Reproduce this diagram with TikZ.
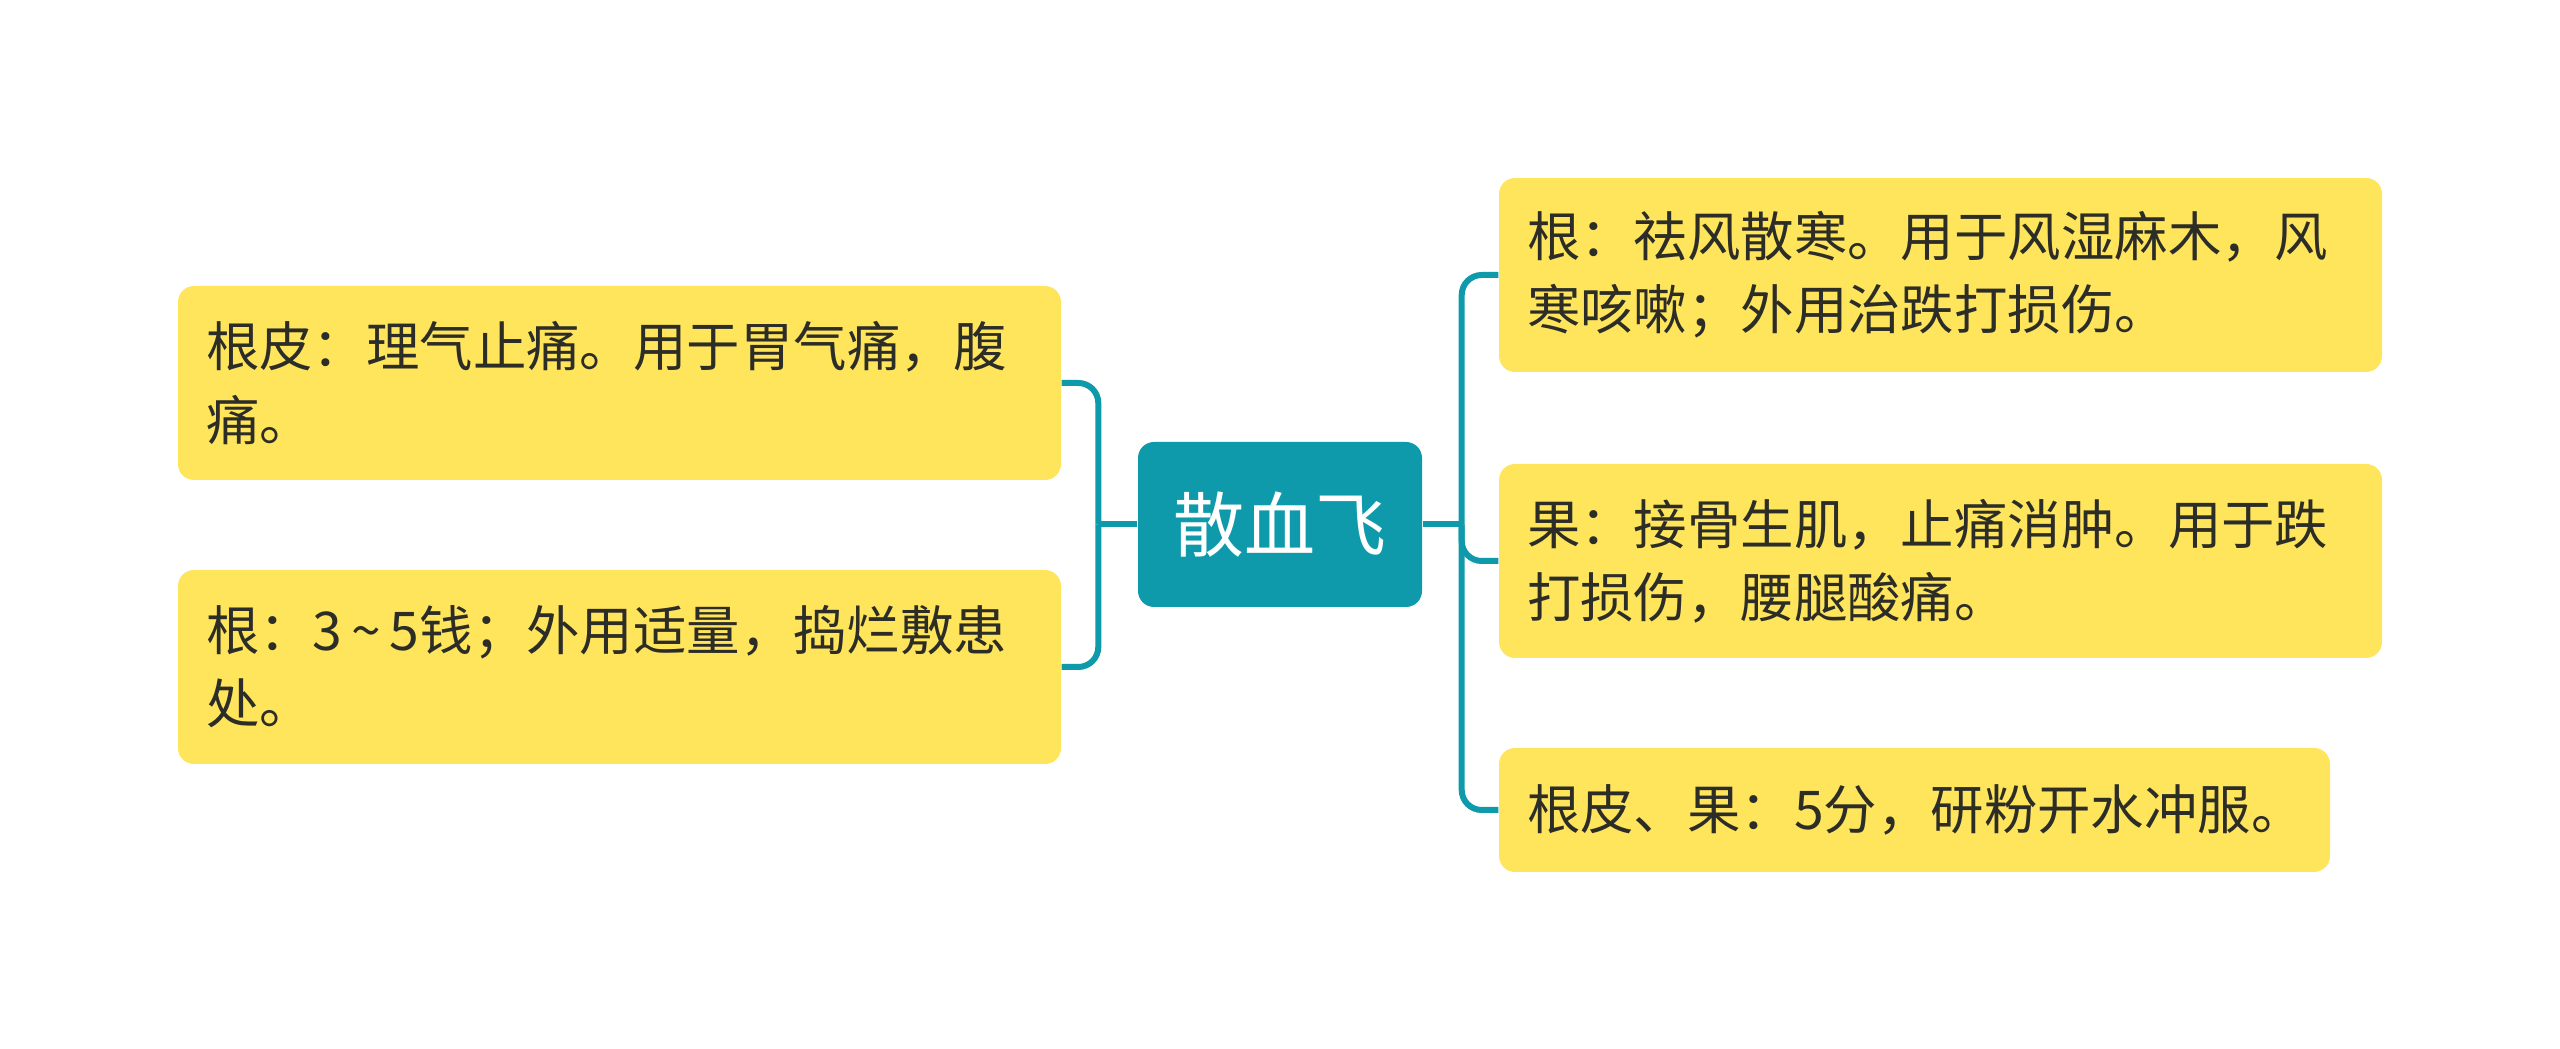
\documentclass[tikz,border=0pt]{standalone}
\usepackage{fontspec}
\setmainfont{Noto Sans CJK SC}
\usepackage{tikz}
\pgfdeclarelayer{edgelayer}
\pgfdeclarelayer{nodelayer}
\pgfsetlayers{edgelayer,nodelayer,main}
\definecolor{rootteal}{RGB}{14,154,170}
\definecolor{leafyellow}{RGB}{255,229,92}
\definecolor{leaftext}{RGB}{45,45,40}
\tikzstyle{edge}=[draw=rootteal, line width=0.6mm, rounded corners=2mm]
\tikzstyle{root}=[rectangle, rounded corners=1.6mm, fill=rootteal, text=white, minimum width=2.84cm, minimum height=1.65cm, font=\fontsize{20.2}{24}\selectfont]
\tikzstyle{leaf}=[rectangle, rounded corners=1.6mm, fill=leafyellow, text=leaftext, align=left, inner xsep=2.8mm, text width=8.27cm, minimum height=1.94cm, font=\fontsize{15.2}{20.8}\selectfont]

\begin{document}
\begin{tikzpicture}
				\useasboundingbox (0, 0) rectangle (25.60, -10.49);
				\begin{pgfonlayer}{nodelayer}
					\node [style=root] (0) at (12.80, -5.245) {散血飞};
					\node [style=leaf] (1) at (6.195, -3.83) {根皮：理气止痛。用于胃气痛，腹\\痛。};
					\node [style=leaf] (2) at (6.195, -6.67) {根：3\,\textasciitilde\,5钱；外用适量，捣烂敷患\\处。};
					\node [style=leaf] (3) at (19.405, -2.75) {根：祛风散寒。用于风湿麻木，风\\寒咳嗽；外用治跌打损伤。};
					\node [style=leaf] (4) at (19.405, -5.61) {果：接骨生肌，止痛消肿。用于跌\\打损伤，腰腿酸痛。};
					\node [style=leaf, text width=7.75cm, minimum height=1.24cm] (5) at (19.145, -8.10) {根皮、果：5分，研粉开水冲服。};
				\end{pgfonlayer}
				\coordinate (jl) at ([xshift=-0.39cm]0.west);
				\coordinate (jr) at ([xshift=0.39cm]0.east);
				\begin{pgfonlayer}{edgelayer}
					\draw [style=edge] (0.west) -- (jl);
					\draw [style=edge] (jl) |- (1.east);
					\draw [style=edge] (jl) |- (2.east);
					\draw [style=edge] (0.east) -- (jr);
					\draw [style=edge] (jr) |- (3.west);
					\draw [style=edge] (jr) |- (4.west);
					\draw [style=edge] (jr) |- (5.west);
				\end{pgfonlayer}
			\end{tikzpicture}
\end{document}
